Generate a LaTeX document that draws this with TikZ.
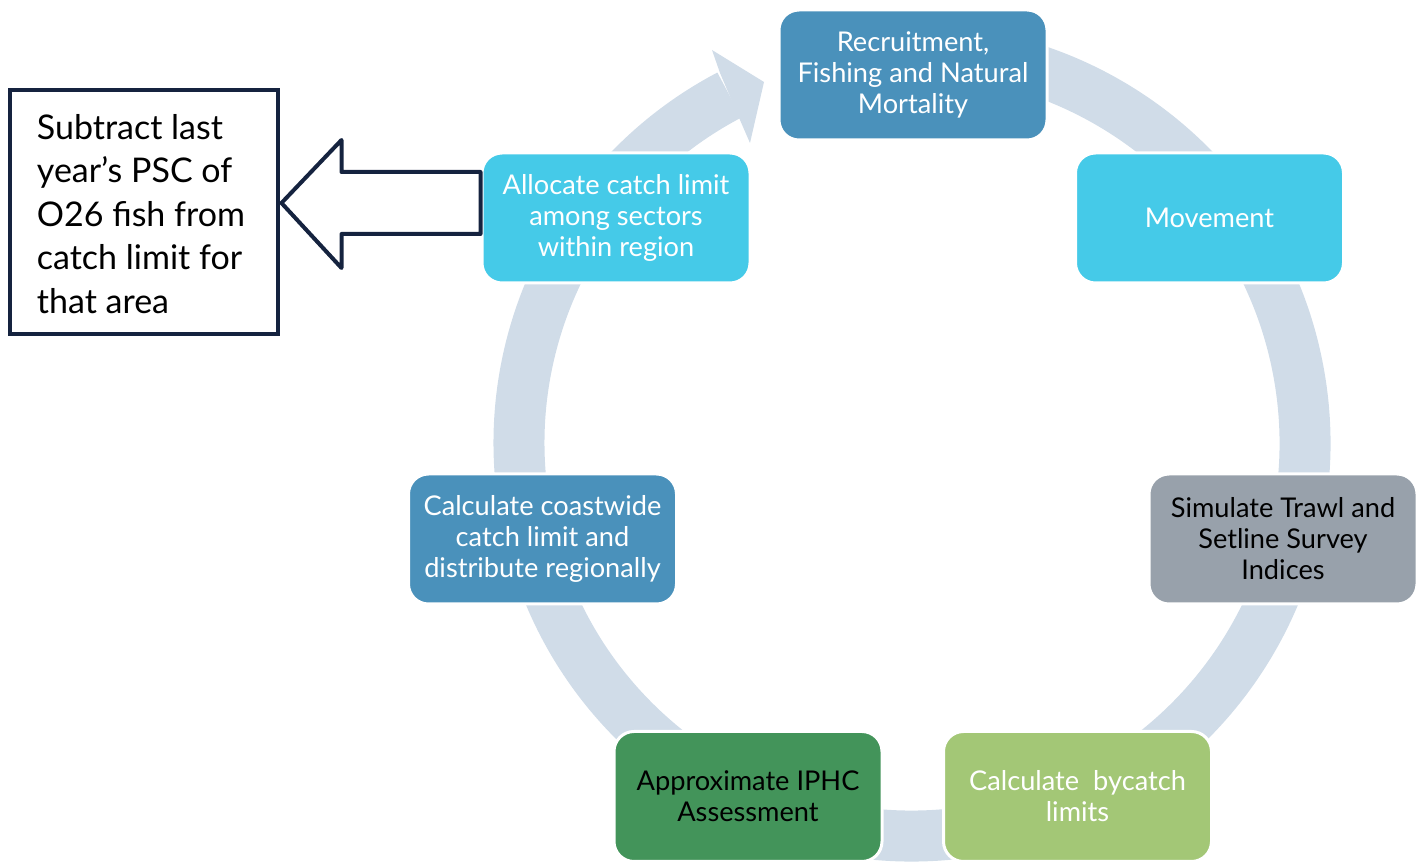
\documentclass[tikz,border=0pt]{standalone}
\usepackage{fontspec}
\setmainfont{Lato}
\usetikzlibrary{calc}
\definecolor{ringc}{HTML}{D0DCE8}
\definecolor{steel}{HTML}{4A91BB}
\definecolor{cyanb}{HTML}{45CAE8}
\definecolor{grayb}{HTML}{98A1AB}
\definecolor{lgreen}{HTML}{A3C776}
\definecolor{dgreen}{HTML}{43945A}
\definecolor{navy}{HTML}{15233F}
\begin{document}
\begin{tikzpicture}[x=0.5pt,y=0.5pt,
  stage/.style={draw=white, line width=1.5pt, rounded corners=10pt,
    minimum width=134pt, minimum height=65pt, align=center, inner sep=2pt,
    font=\fontsize{13.6}{15.5}\selectfont},
  noteframe/.style={draw=navy, line width=2pt, minimum width=134pt, minimum height=122pt},
  hollow/.style={draw=navy, fill=white, line width=2pt, line join=round}]
\useasboundingbox (0,0) rectangle (1421,-865);

% cycle ring with its arrowhead
\draw[ringc, line width=25.5pt] (912,-443) ++(100:393) arc[start angle=100, end angle=-242.3, radius=393];
\fill[ringc] (720,-73) -- (712,-50) -- (764,-82) -- (750,-143) -- (740,-120) -- cycle;

% stages of the cycle
\node[stage, fill=steel, text=white] (rec) at (913,-75) {Recruitment,\\Fishing and Natural\\Mortality};
\node[stage, fill=cyanb, text=white] (mov) at (1209.5,-218) {Movement};
\node[stage, fill=grayb, text=black] (sim) at (1283,-539) {Simulate Trawl and\\Setline Survey\\Indices};
\node[stage, fill=lgreen, text=white] (byc) at (1077.5,-796.5) {Calculate\ \ bycatch\\limits};
\node[stage, fill=dgreen, text=black] (iphc) at (748,-796.5) {Approximate IPHC\\Assessment};
\node[stage, fill=steel, text=white] (coast) at (542.5,-539) {Calculate coastwide\\catch limit and\\distribute regionally};
\node[stage, fill=cyanb, text=white] (alloc) at (616,-218) {Allocate catch limit\\among sectors\\within region};

% side note
\node[noteframe] (note) at (143.5,-212) {};
\node[anchor=west, align=left, inner sep=0pt, font=\fontsize{17}{21.75}\selectfont] (notetext) at ($(note.west)+(29,-2)$)
  {Subtract last\\year’s PSC of\\O26 fish from\\catch limit for\\that area};

% hollow arrow from the allocation step to the note
\coordinate (tip) at ($(note.east)+(2,9)$);
\draw[hollow] (tip) -- ++(60,63) -- ++(0,-32) -- ($(alloc.west |- tip)+(0,31)$)
  -- ($(alloc.west |- tip)+(0,-31)$) -- ($(tip)+(60,-31)$) -- ++(0,-34) -- cycle;
\end{tikzpicture}
\end{document}
